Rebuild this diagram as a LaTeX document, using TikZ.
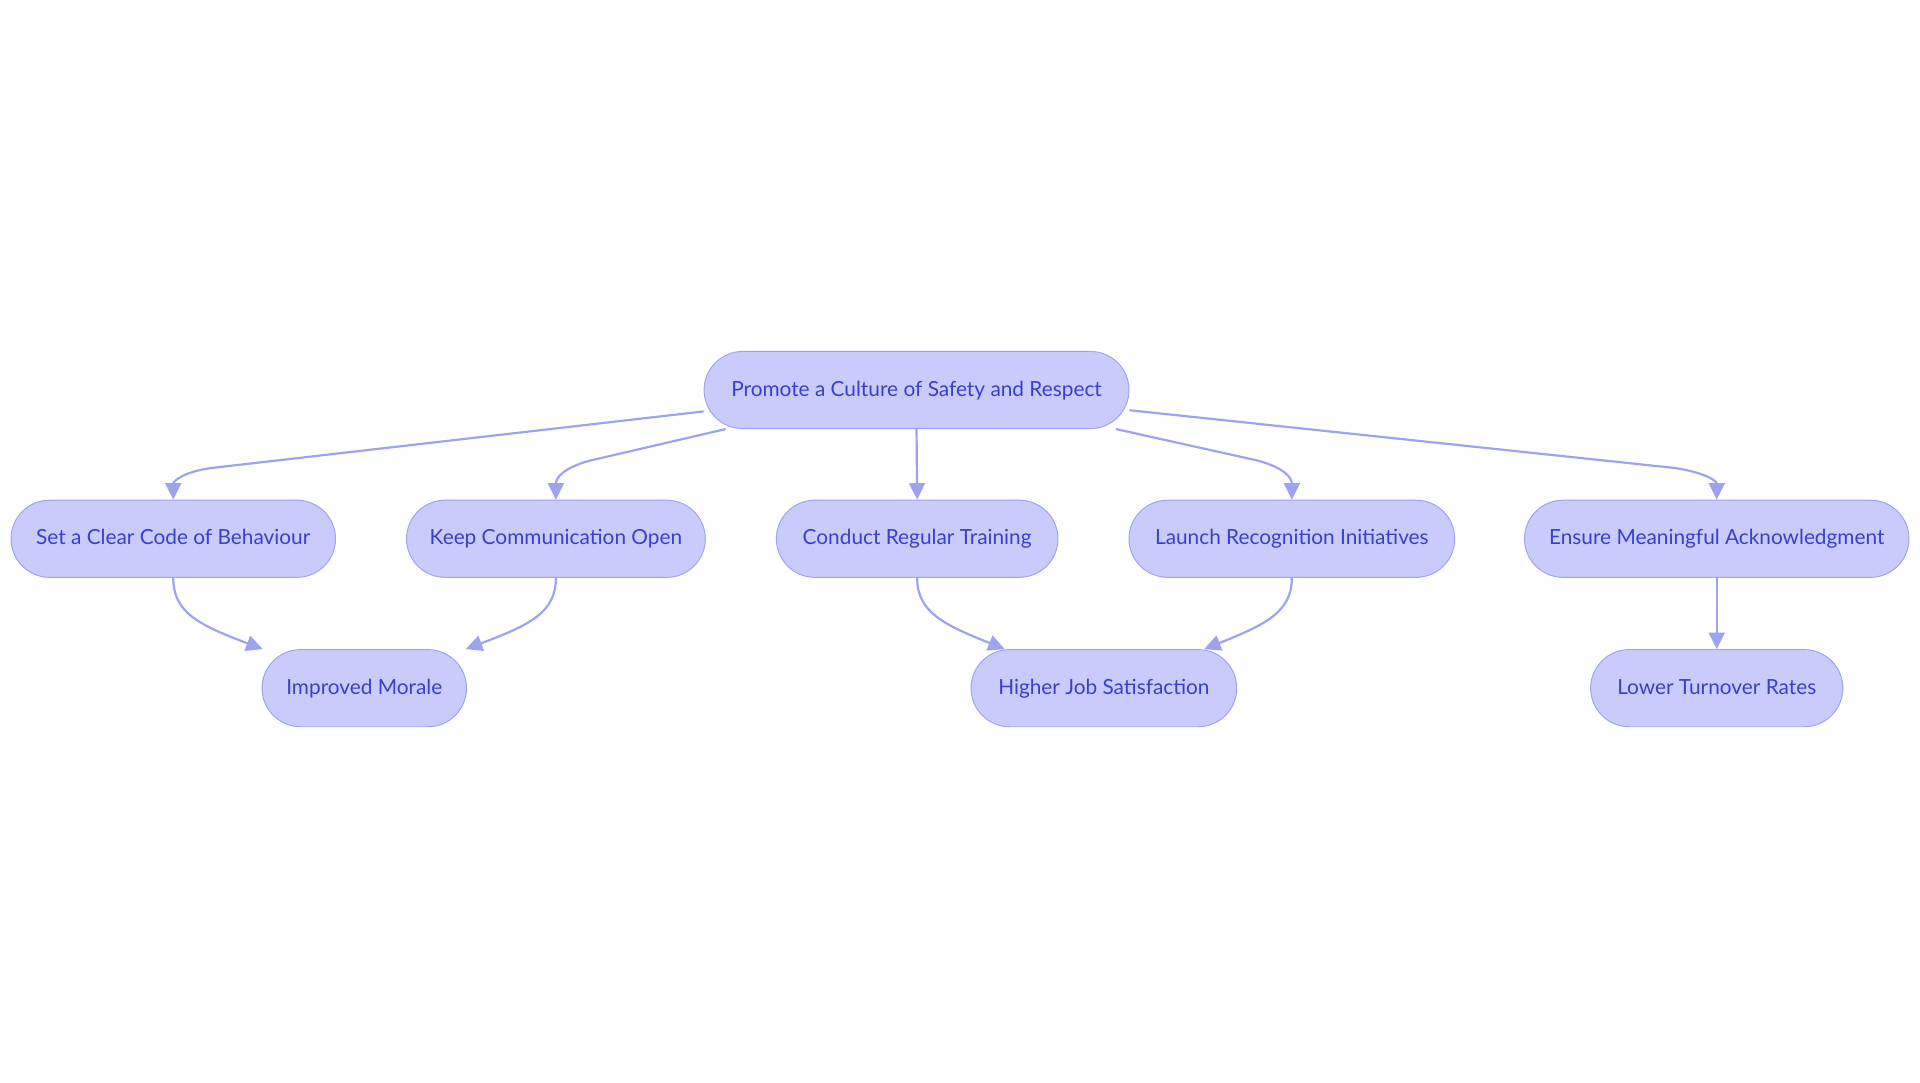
\documentclass[tikz,border=0pt]{standalone}
\usepackage{fontspec}
\setmainfont{Lato}
\usetikzlibrary{arrows.meta,calc}
\definecolor{nfill}{HTML}{C9CBFD}
\definecolor{nline}{HTML}{9DA3EF}
\definecolor{ntext}{HTML}{3A3FCB}
\begin{document}
\begin{tikzpicture}[x=1pt,y=-1pt,
  box/.style={draw=nline,line width=0.8pt,fill=nfill,rounded corners=31.5pt,
    minimum height=63pt,text=ntext,font=\fontsize{17}{20}\selectfont,inner sep=0pt,
    text height=13pt,text depth=3pt},
  link/.style={draw=nline,line width=1.8pt,-{Triangle[length=13.5pt,width=13pt]}}]
\useasboundingbox (0,0) rectangle (1568,884.4);
\node[box,minimum width=347pt] (main) at (748.5,318.5) {Promote a Culture of Safety and Respect};
\node[box,minimum width=265pt] (set) at (141.5,440) {Set a Clear Code of Behaviour};
\node[box,minimum width=244pt] (keep) at (454,440) {Keep Communication Open};
\node[box,minimum width=230pt] (conduct) at (749,440) {Conduct Regular Training};
\node[box,minimum width=266pt] (launch) at (1055,440) {Launch Recognition Initiatives};
\node[box,minimum width=314pt] (ensure) at (1402,440) {Ensure Meaningful Acknowledgment};
\node[box,minimum width=167pt] (imp) at (297.5,562) {Improved Morale};
\node[box,minimum width=217pt] (higher) at (901.5,562) {Higher Job Satisfaction};
\node[box,minimum width=206pt] (lower) at (1402,562) {Lower Turnover Rates};
% main to second row
\draw[link] ($(main.west)+(0,17.5)$) -- ($(set.north)+(32,-26)$)
  .. controls ($(set.north)+(8,-23)$) and ($(set.north)+(0,-15)$) .. (set.north);
\draw[link] ($(main.south west)+(18,0)$) -- ($(keep.north)+(28,-32)$)
  .. controls ($(keep.north)+(6,-26)$) and ($(keep.north)+(0,-18)$) .. (keep.north);
\draw[link] (main.south) -- (conduct.north);
\draw[link] ($(main.south east)+(-11,0)$) -- ($(launch.north)+(-28,-32)$)
  .. controls ($(launch.north)+(-6,-26)$) and ($(launch.north)+(0,-18)$) .. (launch.north);
\draw[link] ($(main.east)+(0,16.5)$) -- ($(ensure.north)+(-35,-26)$)
  .. controls ($(ensure.north)+(-8,-22)$) and ($(ensure.north)+(0,-15)$) .. (ensure.north);
% second row to third row
\draw[link] (set.south) .. controls ($(set.south)+(0,28)$) and ($(imp.north west)+(-52,-20)$) .. ($(imp.north west)+(1,0)$);
\draw[link] (keep.south) .. controls ($(keep.south)+(0,28)$) and ($(imp.north east)+(52,-20)$) .. ($(imp.north east)+(-1,0)$);
\draw[link] (conduct.south) .. controls ($(conduct.south)+(0,28)$) and ($(higher.north west)+(-22,-20)$) .. ($(higher.north west)+(28,0)$);
\draw[link] (launch.south) .. controls ($(launch.south)+(0,28)$) and ($(higher.north east)+(23,-20)$) .. ($(higher.north east)+(-27,0)$);
\draw[link] (ensure.south) -- (lower.north);
\end{tikzpicture}
\end{document}
